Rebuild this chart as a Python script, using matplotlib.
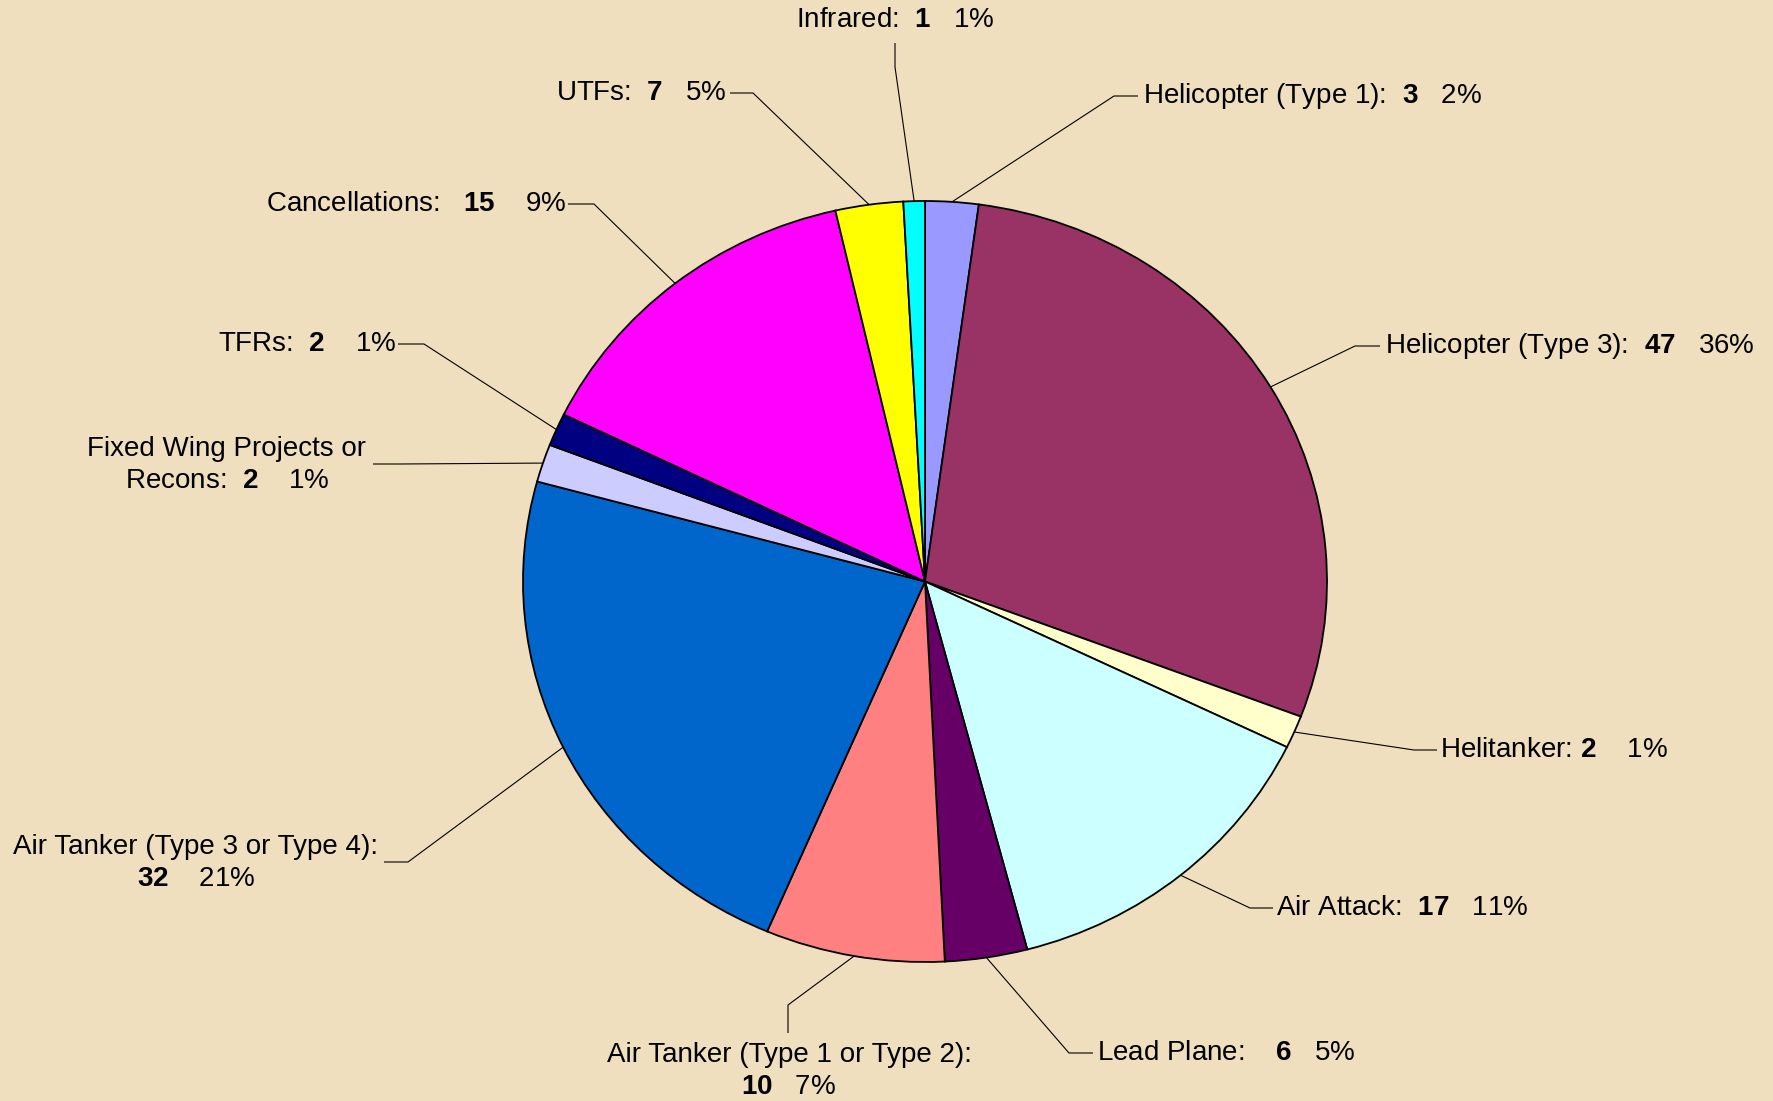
import numpy as np
import matplotlib
matplotlib.use("Agg")
import matplotlib.pyplot as plt

plt.rcParams['font.family'] = ['Liberation Sans', 'DejaVu Sans']
plt.rcParams['mathtext.fontset'] = 'custom'
plt.rcParams['mathtext.rm'] = 'Liberation Sans'
plt.rcParams['mathtext.bf'] = 'Liberation Sans:bold'

# ---- data (clockwise from 12 o'clock) ----
categories = ["Helicopter (Type 1):", "Helicopter (Type 3):", "Helitanker:", "Air Attack:",
              "Lead Plane:", "Air Tanker (Type 1 or Type 2):\n", "Air Tanker (Type 3 or Type 4):\n",
              "Fixed Wing Projects or\nRecons:", "TFRs:", "Cancellations:", "UTFs:", "Infrared:"]
counts = [3, 47, 2, 17, 6, 10, 32, 2, 2, 15, 7, 1]
percents = ["2%", "36%", "1%", "11%", "5%", "7%", "21%", "1%", "1%", "9%", "5%", "1%"]
# slice sizes as drawn (percent of circle)
slice_shares = [2.14, 28.64, 1.39, 13.74, 3.31, 7.21, 22.81, 1.61, 1.39, 14.19, 2.72, 0.86]
colors = ["#9999FF", "#993366", "#FFFFCC", "#CCFFFF", "#660066", "#FF8080",
          "#0066CC", "#CCCCFF", "#000080", "#FF00FF", "#FFFF00", "#00FFFF"]

# ---- layout (pixel coordinates) ----
gap_a = ["  ", "  ", " ", "  ", "    ", "", "", "  ", "  ", "   ", "  ", "  "]
gap_b = ["   ", "   ", "    ", "   ", "   ", "   ", "    ", "    ", "    ", "    ", "   ", "   "]
text_pos = [(1143, 96), (1385, 346), (1440, 750), (1276, 908), (1097, 1053), (789, 1071),
            (196, 863), (227, 465), (396, 344), (566, 204), (727, 93), (895, 20)]
text_ha = ["left", "left", "left", "left", "left", "center", "center", "center",
           "right", "right", "right", "center"]
elbows = [(1114, 96), (1355, 346), (1414, 750), (1250, 908), (1069, 1053), (788, 1005),
          (408, 862), (400, 464), (424, 344), (594, 204), (753, 93), (895, 67)]
tails = [(1138, 96), (1380, 346), (1437, 750), (1273, 908), (1093, 1053), (788, 1033),
         (384, 862), (373, 464), (398, 344), (568, 204), (730, 93), (895, 43)]

W, H = 1774, 1101
bg = "#EFDFBE"
fig = plt.figure(figsize=(W / 100, H / 100), dpi=100, facecolor=bg)
ax = fig.add_axes([0, 0, 1, 1])
ax.set_xlim(0, W)
ax.set_ylim(H, 0)
ax.set_facecolor(bg)
ax.axis("off")

pie_box = (523, 201, 1327, 962)  # left, top, right, bottom
ax_pie = fig.add_axes([pie_box[0] / W, (H - pie_box[3]) / H,
                       (pie_box[2] - pie_box[0]) / W, (pie_box[3] - pie_box[1]) / H])
wedges, _ = ax_pie.pie(slice_shares, colors=colors, startangle=90, counterclock=False,
                       wedgeprops=dict(edgecolor="black", linewidth=1.3))
ax_pie.set_aspect("auto")
ax_pie.set_xlim(-1, 1)
ax_pie.set_ylim(-1, 1)
ax_pie.patch.set_alpha(0)

inv = ax.transData.inverted()
for i, w in enumerate(wedges):
    th = np.deg2rad((w.theta1 + w.theta2) / 2)
    p = inv.transform(ax_pie.transData.transform((np.cos(th), np.sin(th))))
    xs = [p[0], elbows[i][0], tails[i][0]]
    ys = [p[1], elbows[i][1], tails[i][1]]
    ax.plot(xs, ys, color="black", lw=0.8, solid_capstyle="butt")

    cat = categories[i]
    if cat.endswith("\n"):
        label = cat + r"$\mathbf{%d}$" % counts[i] + gap_b[i] + percents[i]
    else:
        label = cat + gap_a[i] + r"$\mathbf{%d}$" % counts[i] + gap_b[i] + percents[i]
    ax.text(text_pos[i][0], text_pos[i][1], label, ha=text_ha[i], va="center",
            fontsize=20, color="black", multialignment="center", linespacing=1.27)

fig.savefig("out.png", dpi=100, facecolor=bg)
